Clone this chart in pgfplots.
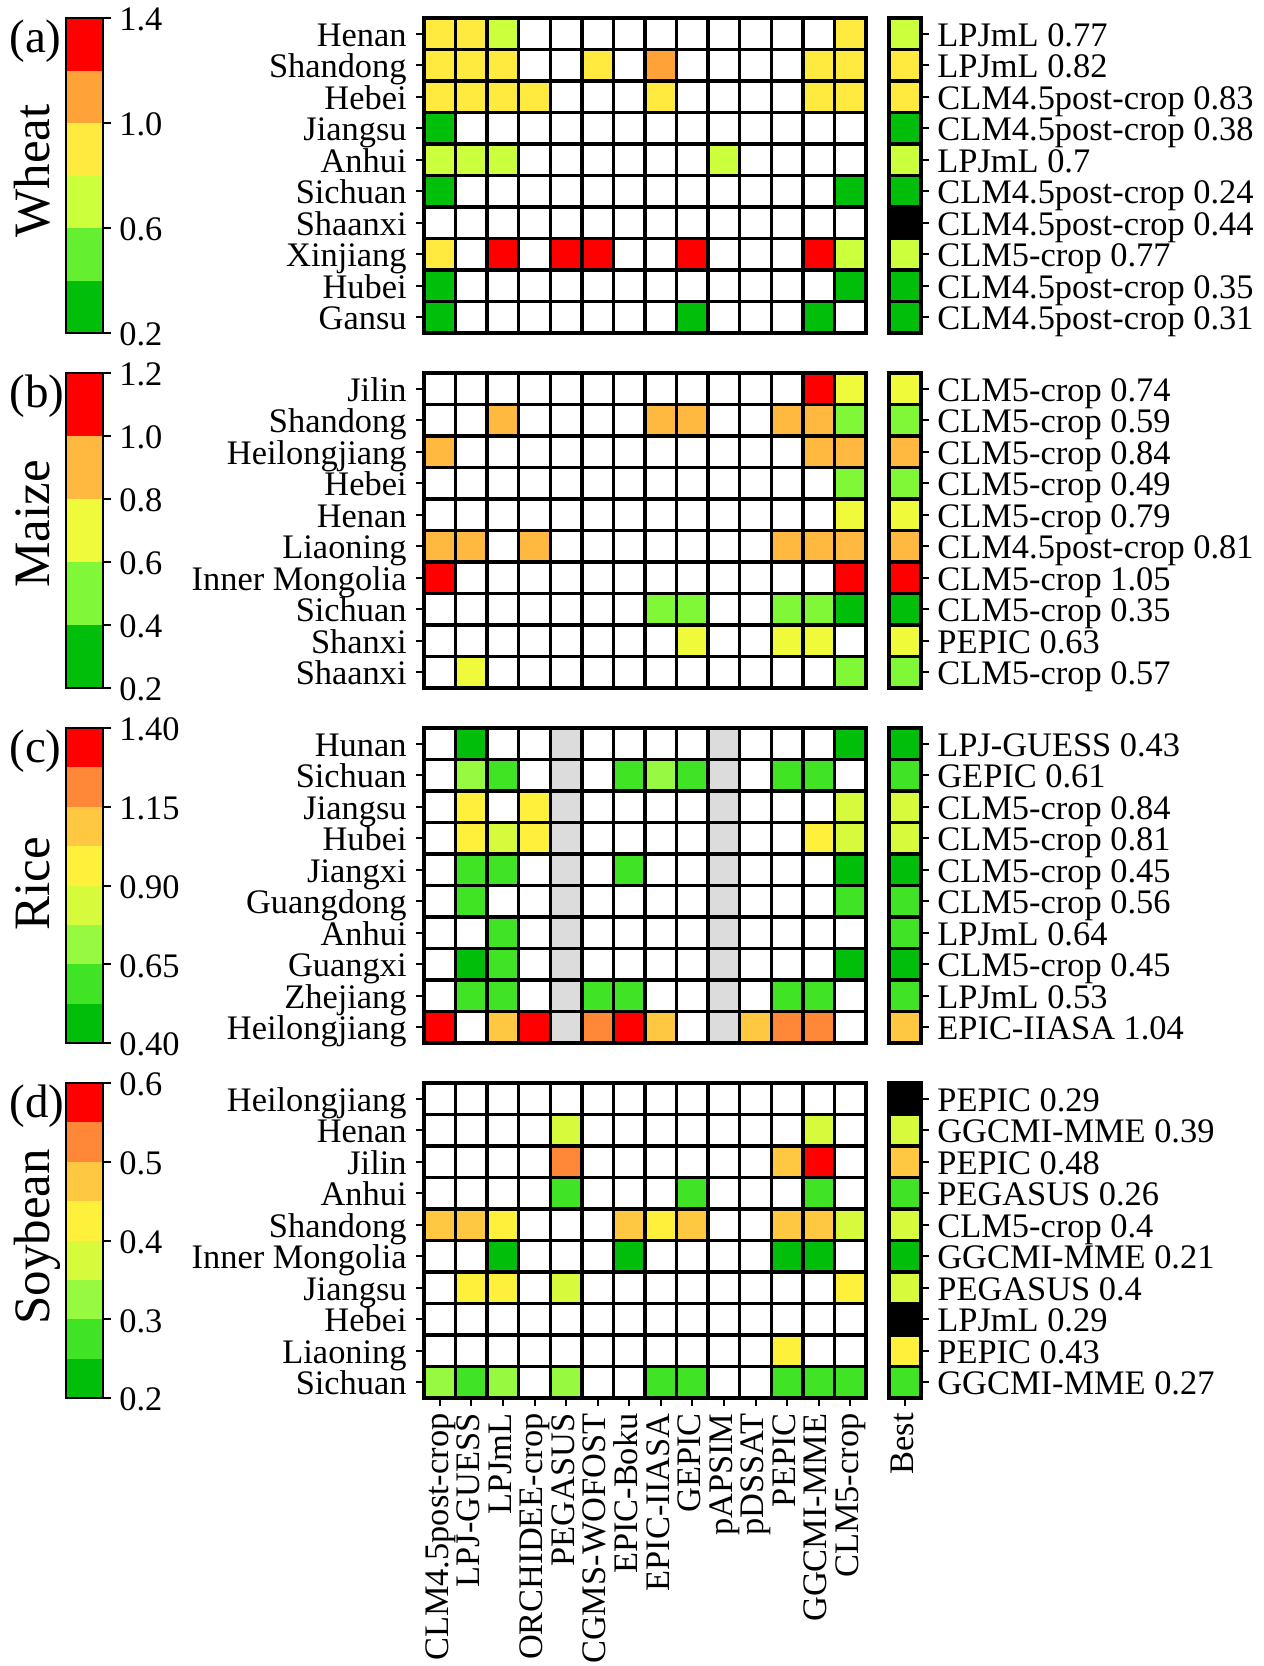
\documentclass[border=0pt]{standalone}
\usepackage{fontspec}
\setmainfont{Liberation Serif}
\usepackage{pgfplots}
\usepackage{pgfplotstable}
\pgfplotsset{compat=1.18}

\definecolor{cDG}{RGB}{0,190,10}
\definecolor{wG}{RGB}{100,240,48}
\definecolor{wYG}{RGB}{204,255,60}
\definecolor{wY}{RGB}{255,235,64}
\definecolor{wO}{RGB}{255,163,56}
\definecolor{cR}{RGB}{255,0,0}
\definecolor{mLG}{RGB}{128,248,56}
\definecolor{mY}{RGB}{238,250,58}
\definecolor{mO}{RGB}{255,184,64}
\definecolor{rG}{RGB}{64,228,36}
\definecolor{rLG}{RGB}{152,250,64}
\definecolor{rYG}{RGB}{216,250,60}
\definecolor{rY}{RGB}{255,240,60}
\definecolor{rLO}{RGB}{255,200,64}
\definecolor{rO}{RGB}{255,136,56}
\definecolor{naGray}{RGB}{220,220,220}

\tikzset{
  plabel/.style={font=\fontsize{23.5}{28}\selectfont, anchor=base west},
  clabel/.style={font=\fontsize{25.5}{30}\selectfont, anchor=base, rotate=90},
}

\pgfplotsset{
  colormap={wheatmap}{color=(cDG) color=(wG) color=(wYG) color=(wY) color=(wO) color=(cR)},
  colormap={maizemap}{color=(cDG) color=(mLG) color=(mY) color=(mO) color=(cR)},
  colormap={ricemap}{color=(cDG) color=(rG) color=(rLG) color=(rYG) color=(rY) color=(rLO) color=(rO) color=(cR)},
  heat/.style={
    scale only axis, width=221pt, height=157.5pt, anchor=north west,
    xmin=-0.5, xmax=13.5, ymin=-0.5, ymax=9.5, y dir=reverse,
    axis on top, clip marker paths=true,
    xtick={0,...,13}, xtick pos=bottom,
    ytick={0,...,9}, ytick pos=left,
    minor xtick={-0.5,0.5,...,13.5}, minor ytick={-0.5,0.5,...,9.5},
    xminorgrids, yminorgrids,
    minor grid style={black, line width=1.7pt},
    minor tick length=0pt,
    tick align=outside, major tick length=4pt,
    tick style={black, line width=1pt},
    axis line style={black, line width=1.7pt},
    tick label style={font=\fontsize{17.2}{20.6}\selectfont},
    yticklabel style={anchor=base east, yshift=-6.2pt, inner xsep=4.5pt},
    typeset ticklabels with strut,
    colormap access=piecewise constant,
  },
  nox/.style={xticklabels={}, xtick style={draw=none}},
  best/.style={
    scale only axis, width=16pt, height=157.5pt, anchor=north west,
    xmin=-0.5, xmax=0.5, ymin=-0.5, ymax=9.5, y dir=reverse,
    axis on top, clip marker paths=true,
    ytick={0,...,9}, ytick pos=right, yticklabel pos=right,
    minor ytick={-0.5,0.5,...,9.5},
    yminorgrids,
    minor grid style={black, line width=1.7pt},
    minor tick length=0pt,
    tick align=outside, major tick length=4pt,
    tick style={black, line width=1pt},
    axis line style={black, line width=1.7pt},
    tick label style={font=\fontsize{17.2}{20.6}\selectfont},
    yticklabel style={anchor=base west, yshift=-6.2pt, inner xsep=4pt},
    typeset ticklabels with strut,
    colormap access=piecewise constant,
  },
  cbar/.style={
    scale only axis, width=18.5pt, height=157.5pt, anchor=north west,
    xmin=0, xmax=1, xtick=\empty,
    ytick pos=right, yticklabel pos=right,
    tick align=outside, major tick length=4pt,
    tick style={black, line width=1pt},
    axis line style={black, line width=1pt},
    tick label style={font=\fontsize{17.2}{20.6}\selectfont},
    yticklabel style={anchor=base west, yshift=-6.4pt, inner xsep=4pt},
    axis on top,
  },
  cell/.style={scatter, only marks, mark=square*, mark size=7.9pt, point meta=explicit},
  bcell/.style={scatter, only marks, mark=square*, mark size=8pt, point meta=explicit},
  band/.style={draw=none, fill=#1},
}

% ---------------- data ----------------
\pgfplotstableread{
x y v
0 0 0.9
1 0 0.9
2 0 0.7
13 0 0.9
0 1 0.9
1 1 0.9
2 1 0.9
5 1 0.9
7 1 1.1
12 1 0.9
13 1 0.9
0 2 0.9
1 2 0.9
2 2 0.9
3 2 0.9
7 2 0.9
12 2 0.9
13 2 0.9
0 3 0.3
0 4 0.7
1 4 0.7
2 4 0.7
9 4 0.7
0 5 0.3
13 5 0.3
0 7 0.9
2 7 1.3
4 7 1.3
5 7 1.3
8 7 1.3
12 7 1.3
13 7 0.7
0 8 0.3
13 8 0.3
0 9 0.3
8 9 0.3
12 9 0.3
}\wheatcells
\pgfplotstableread{
y v
0 0.77
1 0.82
2 0.83
3 0.38
4 0.70
5 0.24
7 0.77
8 0.35
9 0.31
}\wheatbest

\pgfplotstableread{
x y v
12 0 1.1
13 0 0.7
2 1 0.9
7 1 0.9
8 1 0.9
11 1 0.9
12 1 0.9
13 1 0.5
0 2 0.9
12 2 0.9
13 2 0.9
13 3 0.5
13 4 0.7
0 5 0.9
1 5 0.9
3 5 0.9
11 5 0.9
12 5 0.9
13 5 0.9
0 6 1.1
13 6 1.1
7 7 0.5
8 7 0.5
11 7 0.5
12 7 0.5
13 7 0.3
8 8 0.7
11 8 0.7
12 8 0.7
1 9 0.7
13 9 0.5
}\maizecells
\pgfplotstableread{
y v
0 0.74
1 0.59
2 0.84
3 0.49
4 0.79
5 0.81
6 1.05
7 0.35
8 0.63
9 0.57
}\maizebest

\pgfplotstableread{
x y v
1 0 0.46
13 0 0.46
1 1 0.71
2 1 0.59
6 1 0.59
7 1 0.71
8 1 0.59
11 1 0.59
12 1 0.59
1 2 0.96
3 2 0.96
13 2 0.84
1 3 0.96
2 3 0.84
3 3 0.96
12 3 0.96
13 3 0.84
1 4 0.59
2 4 0.59
6 4 0.59
13 4 0.46
1 5 0.59
13 5 0.59
2 6 0.59
1 7 0.46
2 7 0.59
13 7 0.46
1 8 0.59
2 8 0.59
5 8 0.59
6 8 0.59
11 8 0.59
12 8 0.59
0 9 1.34
2 9 1.09
3 9 1.34
5 9 1.21
6 9 1.34
7 9 1.09
10 9 1.09
11 9 1.21
12 9 1.21
}\ricecells
\pgfplotstableread{
y v
0 0.43
1 0.61
2 0.84
3 0.81
4 0.45
5 0.56
6 0.64
7 0.45
8 0.53
9 1.04
}\ricebest
\pgfplotstableread{
x y
4 0
4 1
4 2
4 3
4 4
4 5
4 6
4 7
4 8
4 9
9 0
9 1
9 2
9 3
9 4
9 5
9 6
9 7
9 8
9 9
}\ricena

\pgfplotstableread{
x y v
4 1 0.375
12 1 0.375
4 2 0.525
11 2 0.475
12 2 0.575
4 3 0.275
8 3 0.275
12 3 0.275
0 4 0.475
1 4 0.475
2 4 0.425
6 4 0.475
7 4 0.425
8 4 0.475
11 4 0.475
12 4 0.475
13 4 0.375
2 5 0.225
6 5 0.225
11 5 0.225
12 5 0.225
1 6 0.425
2 6 0.425
4 6 0.375
13 6 0.425
11 8 0.425
0 9 0.325
1 9 0.275
2 9 0.325
4 9 0.325
7 9 0.275
8 9 0.275
11 9 0.275
12 9 0.275
13 9 0.275
}\soycells
\pgfplotstableread{
y v
1 0.39
2 0.48
3 0.26
4 0.398
5 0.21
6 0.398
8 0.43
9 0.27
}\soybest

\begin{document}
\begin{tikzpicture}
\useasboundingbox (0,0) rectangle (632pt,-833pt);

% ================= (a) Wheat =================
\node[plabel] at (1.2pt,-26pt) {(a)};
\node[clabel] at (24.5pt,-85.5pt) {Wheat};
\begin{axis}[cbar, at={(33pt,-9pt)}, ymin=0.2, ymax=1.4,
  ytick={0.2,0.6,1.0,1.4}, yticklabels={0.2,0.6,1.0,1.4}]
\addplot[band=cDG] coordinates {(0,0.2)(1,0.2)(1,0.4)(0,0.4)} --cycle;
\addplot[band=wG]  coordinates {(0,0.4)(1,0.4)(1,0.6)(0,0.6)} --cycle;
\addplot[band=wYG] coordinates {(0,0.6)(1,0.6)(1,0.8)(0,0.8)} --cycle;
\addplot[band=wY]  coordinates {(0,0.8)(1,0.8)(1,1.0)(0,1.0)} --cycle;
\addplot[band=wO]  coordinates {(0,1.0)(1,1.0)(1,1.2)(0,1.2)} --cycle;
\addplot[band=cR]  coordinates {(0,1.2)(1,1.2)(1,1.4)(0,1.4)} --cycle;
\end{axis}
\begin{axis}[heat, nox, at={(212pt,-9pt)}, colormap name=wheatmap,
  point meta min=0.2, point meta max=1.4,
  yticklabels={Henan,Shandong,Hebei,Jiangsu,Anhui,Sichuan,Shaanxi,Xinjiang,Hubei,Gansu}]
\addplot[cell] table[x=x, y=y, meta=v] \wheatcells;
\end{axis}
\begin{axis}[best, at={(444.5pt,-9pt)}, colormap name=wheatmap,
  point meta min=0.2, point meta max=1.4, xtick=\empty,
  yticklabels={LPJmL 0.77,LPJmL 0.82,CLM4.5post-crop 0.83,CLM4.5post-crop 0.38,LPJmL 0.7,CLM4.5post-crop 0.24,CLM4.5post-crop 0.44,CLM5-crop 0.77,CLM4.5post-crop 0.35,CLM4.5post-crop 0.31}]
\addplot[bcell] table[x expr=0, y=y, meta=v] \wheatbest;
\addplot[only marks, mark=square*, mark size=8pt, black] coordinates {(0,6)};
\end{axis}

% ================= (b) Maize =================
\node[plabel] at (1.2pt,-203.5pt) {(b)};
\node[clabel] at (24.5pt,-262pt) {Maize};
\begin{axis}[cbar, at={(33pt,-186.5pt)}, ymin=0.2, ymax=1.2,
  ytick={0.2,0.4,0.6,0.8,1.0,1.2}, yticklabels={0.2,0.4,0.6,0.8,1.0,1.2}]
\addplot[band=cDG] coordinates {(0,0.2)(1,0.2)(1,0.4)(0,0.4)} --cycle;
\addplot[band=mLG] coordinates {(0,0.4)(1,0.4)(1,0.6)(0,0.6)} --cycle;
\addplot[band=mY]  coordinates {(0,0.6)(1,0.6)(1,0.8)(0,0.8)} --cycle;
\addplot[band=mO]  coordinates {(0,0.8)(1,0.8)(1,1.0)(0,1.0)} --cycle;
\addplot[band=cR]  coordinates {(0,1.0)(1,1.0)(1,1.2)(0,1.2)} --cycle;
\end{axis}
\begin{axis}[heat, nox, at={(212pt,-186.5pt)}, colormap name=maizemap,
  point meta min=0.2, point meta max=1.2,
  yticklabels={Jilin,Shandong,Heilongjiang,Hebei,Henan,Liaoning,Inner Mongolia,Sichuan,Shanxi,Shaanxi}]
\addplot[cell] table[x=x, y=y, meta=v] \maizecells;
\end{axis}
\begin{axis}[best, at={(444.5pt,-186.5pt)}, colormap name=maizemap,
  point meta min=0.2, point meta max=1.2, xtick=\empty,
  yticklabels={CLM5-crop 0.74,CLM5-crop 0.59,CLM5-crop 0.84,CLM5-crop 0.49,CLM5-crop 0.79,CLM4.5post-crop 0.81,CLM5-crop 1.05,CLM5-crop 0.35,PEPIC 0.63,CLM5-crop 0.57}]
\addplot[bcell] table[x expr=0, y=y, meta=v] \maizebest;
\end{axis}

% ================= (c) Rice =================
\node[plabel] at (1.2pt,-381pt) {(c)};
\node[clabel] at (24.5pt,-442pt) {Rice};
\begin{axis}[cbar, at={(33pt,-364pt)}, ymin=0.4, ymax=1.4,
  ytick={0.4,0.65,0.9,1.15,1.4}, yticklabels={0.40,0.65,0.90,1.15,1.40}]
\addplot[band=cDG] coordinates {(0,0.4)(1,0.4)(1,0.525)(0,0.525)} --cycle;
\addplot[band=rG]  coordinates {(0,0.525)(1,0.525)(1,0.65)(0,0.65)} --cycle;
\addplot[band=rLG] coordinates {(0,0.65)(1,0.65)(1,0.775)(0,0.775)} --cycle;
\addplot[band=rYG] coordinates {(0,0.775)(1,0.775)(1,0.9)(0,0.9)} --cycle;
\addplot[band=rY]  coordinates {(0,0.9)(1,0.9)(1,1.025)(0,1.025)} --cycle;
\addplot[band=rLO] coordinates {(0,1.025)(1,1.025)(1,1.15)(0,1.15)} --cycle;
\addplot[band=rO]  coordinates {(0,1.15)(1,1.15)(1,1.275)(0,1.275)} --cycle;
\addplot[band=cR]  coordinates {(0,1.275)(1,1.275)(1,1.4)(0,1.4)} --cycle;
\end{axis}
\begin{axis}[heat, nox, at={(212pt,-364pt)}, colormap name=ricemap,
  point meta min=0.4, point meta max=1.4,
  yticklabels={Hunan,Sichuan,Jiangsu,Hubei,Jiangxi,Guangdong,Anhui,Guangxi,Zhejiang,Heilongjiang}]
\addplot[only marks, mark=square*, mark size=7.9pt, naGray] table[x=x, y=y] \ricena;
\addplot[cell] table[x=x, y=y, meta=v] \ricecells;
\end{axis}
\begin{axis}[best, at={(444.5pt,-364pt)}, colormap name=ricemap,
  point meta min=0.4, point meta max=1.4, xtick=\empty,
  yticklabels={LPJ-GUESS 0.43,GEPIC 0.61,CLM5-crop 0.84,CLM5-crop 0.81,CLM5-crop 0.45,CLM5-crop 0.56,LPJmL 0.64,CLM5-crop 0.45,LPJmL 0.53,EPIC-IIASA 1.04}]
\addplot[bcell] table[x expr=0, y=y, meta=v] \ricebest;
\end{axis}

% ================= (d) Soybean =================
\node[plabel] at (1.2pt,-558.5pt) {(d)};
\node[clabel] at (24.5pt,-618.5pt) {Soybean};
\begin{axis}[cbar, at={(33pt,-541.5pt)}, ymin=0.2, ymax=0.6,
  ytick={0.2,0.3,0.4,0.5,0.6}, yticklabels={0.2,0.3,0.4,0.5,0.6}]
\addplot[band=cDG] coordinates {(0,0.2)(1,0.2)(1,0.25)(0,0.25)} --cycle;
\addplot[band=rG]  coordinates {(0,0.25)(1,0.25)(1,0.3)(0,0.3)} --cycle;
\addplot[band=rLG] coordinates {(0,0.3)(1,0.3)(1,0.35)(0,0.35)} --cycle;
\addplot[band=rYG] coordinates {(0,0.35)(1,0.35)(1,0.4)(0,0.4)} --cycle;
\addplot[band=rY]  coordinates {(0,0.4)(1,0.4)(1,0.45)(0,0.45)} --cycle;
\addplot[band=rLO] coordinates {(0,0.45)(1,0.45)(1,0.5)(0,0.5)} --cycle;
\addplot[band=rO]  coordinates {(0,0.5)(1,0.5)(1,0.55)(0,0.55)} --cycle;
\addplot[band=cR]  coordinates {(0,0.55)(1,0.55)(1,0.6)(0,0.6)} --cycle;
\end{axis}
\begin{axis}[heat, at={(212pt,-541.5pt)}, colormap name=ricemap,
  point meta min=0.2, point meta max=0.6,
  xticklabels={CLM4.5post-crop,LPJ-GUESS,LPJmL,ORCHIDEE-crop,PEGASUS,CGMS-WOFOST,EPIC-Boku,EPIC-IIASA,GEPIC,pAPSIM,pDSSAT,PEPIC,GGCMI-MME,CLM5-crop},
  xticklabel style={rotate=90, anchor=east, inner xsep=3.5pt},
  yticklabels={Heilongjiang,Henan,Jilin,Anhui,Shandong,Inner Mongolia,Jiangsu,Hebei,Liaoning,Sichuan}]
\addplot[cell] table[x=x, y=y, meta=v] \soycells;
\end{axis}
\begin{axis}[best, at={(444.5pt,-541.5pt)}, colormap name=ricemap,
  point meta min=0.2, point meta max=0.6,
  xtick={0}, xtick pos=bottom, xticklabels={Best},
  xticklabel style={rotate=90, anchor=east, inner xsep=3.5pt},
  yticklabels={PEPIC 0.29,GGCMI-MME 0.39,PEPIC 0.48,PEGASUS 0.26,CLM5-crop 0.4,GGCMI-MME 0.21,PEGASUS 0.4,LPJmL 0.29,PEPIC 0.43,GGCMI-MME 0.27}]
\addplot[bcell] table[x expr=0, y=y, meta=v] \soybest;
\addplot[only marks, mark=square*, mark size=8pt, black] coordinates {(0,0) (0,7)};
\end{axis}
\end{tikzpicture}
\end{document}
